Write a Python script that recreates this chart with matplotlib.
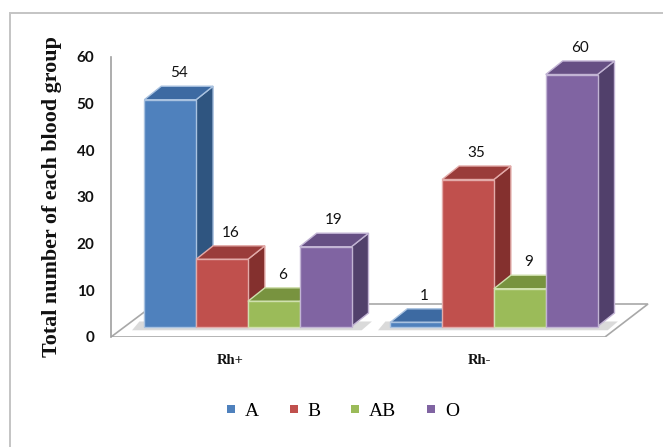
import matplotlib
matplotlib.use("Agg")
import matplotlib.pyplot as plt
from matplotlib.patches import Polygon, Rectangle
from matplotlib.lines import Line2D

# ---- data -------------------------------------------------------------
groups = ["Rh+", "Rh-"]
blood_types = ["A", "B", "AB", "O"]
rh_pos = [54, 16, 6, 19]
rh_neg = [1, 35, 9, 60]
y_ticks = [0, 10, 20, 30, 40, 50, 60]

values = [rh_pos, rh_neg]

# front / top / side / edge colours per blood type
front_cols = ["#4F81BD", "#C0504D", "#9BBB59", "#8064A2"]
top_cols = ["#3D6AA2", "#9A3C3A", "#78933F", "#664F84"]
side_cols = ["#2F5580", "#84302E", "#6A8636", "#51406B"]
edge_cols = ["#A9C2E0", "#E3ABA9", "#D0E0AE", "#C2B4D4"]

# ---- figure -------------------------------------------------------------
W, H = 663, 447
fig = plt.figure(figsize=(W / 100, H / 100), dpi=100)
fig.patch.set_facecolor("white")

# outer chart-area border (left and top edges fall inside the canvas)
fig.patches.append(Rectangle((10 / W, -0.2), 1.5, 1.2 - 12.7 / H,
                             transform=fig.transFigure, fill=False,
                             edgecolor="#C4C4C4", linewidth=1.4))

px_per_unit = 4.2          # vertical pixels per count
group_px = 246.0           # pixels between group centres
ax_left, ax_right, ax_top, ax_bot = 111, 663, 20, 337
x0_px = 247.9              # pixel of the first group centre
base_px = 326.5            # pixel of the bar bases

ax = fig.add_axes([ax_left / W, 1 - ax_bot / H, (ax_right - ax_left) / W,
                   (ax_bot - ax_top) / H])
ax.set_xlim((ax_left - x0_px) / group_px, (ax_right - x0_px) / group_px)
ax.set_ylim(-(ax_bot - base_px) / px_per_unit, (base_px - ax_top) / px_per_unit)
ax.axis("off")

bar_w = 51.8 / group_px
dx = 17 / group_px
dy = 13.5 / px_per_unit

# floor plate
fy_front = -(ax_bot - base_px) / px_per_unit
fy_back = (base_px - 304) / px_per_unit
floor = Polygon([((111 - x0_px) / group_px, fy_front),
                 ((605 - x0_px) / group_px, fy_front),
                 ((648 - x0_px) / group_px, fy_back),
                 ((155 - x0_px) / group_px, fy_back)],
                closed=True, facecolor="white", edgecolor="#A8A8A8",
                linewidth=1.2, zorder=1)
ax.add_patch(floor)

# soft shadow under each group of bars
for gi in range(len(groups)):
    left = gi - 2 * bar_w
    right = gi + 2 * bar_w
    sh = Polygon([(left - 0.05, -0.9), (right + dx * 0.6, -0.9),
                  (right + dx * 1.2, 1.2), (left - 0.02, 1.2)],
                 closed=True, facecolor="#BDBDBD", edgecolor="none",
                 alpha=0.55, zorder=1.5)
    ax.add_patch(sh)

z = 2
for gi, vals in enumerate(values):
    for bi, v in enumerate(vals):
        xc = gi + (bi - 1.5) * bar_w
        xl, xr = xc - bar_w / 2, xc + bar_w / 2
        side = Polygon([(xr, 0), (xr + dx, dy), (xr + dx, v + dy), (xr, v)],
                       closed=True, facecolor=side_cols[bi],
                       edgecolor=edge_cols[bi], linewidth=1.0, zorder=z)
        top = Polygon([(xl, v), (xr, v), (xr + dx, v + dy), (xl + dx, v + dy)],
                      closed=True, facecolor=top_cols[bi],
                      edgecolor=edge_cols[bi], linewidth=1.0, zorder=z + 0.1)
        ax.add_patch(side)
        ax.add_patch(top)
        ax.bar(xc, v, width=bar_w, bottom=0, color=front_cols[bi],
               edgecolor=edge_cols[bi], linewidth=1.0, zorder=z + 0.2)
        ax.text(xc + dx / 2, v + dy + 1.4, str(v), ha="center", va="bottom",
                fontsize=11, family="Lato", color="#111111", zorder=20)
        z += 1

# category labels under each group
label_shift = [-18 / group_px, -14 / group_px]
for gi, g in enumerate(groups):
    ax.text(gi + label_shift[gi], fy_front - 24 / px_per_unit, g,
            ha="center", va="center", fontsize=10.5, fontweight="bold",
            family="Liberation Serif", color="#111111")

# value axis along the front edge of the floor
axis_top_px = 57
tax = fig.add_axes([ax_left / W, 1 - ax_bot / H, 0.001,
                    (ax_bot - axis_top_px) / H])
tax.set_ylim(0, 60)
tax.set_yticks(y_ticks)
tax.set_yticklabels([str(t) for t in y_ticks], fontsize=11,
                    fontweight="bold", family="Lato", color="#111111")
tax.set_xticks([])
tax.tick_params(axis="y", length=0, pad=12)
for s in ["top", "right", "bottom"]:
    tax.spines[s].set_visible(False)
tax.spines["left"].set_color("#A0A0A0")
tax.spines["left"].set_linewidth(1.2)
tax.patch.set_alpha(0)

fig.text(52 / W, 1 - 197 / H, "Total number of each blood group",
         rotation=90, ha="center", va="center", fontsize=15.8,
         fontweight="bold", family="Liberation Serif", color="#111111")

handles = [Line2D([], [], marker="s", linestyle="none", markersize=6,
                  color=c, markeredgewidth=0) for c in front_cols]
fig.legend(handles, blood_types, loc="center", ncol=4,
           bbox_to_anchor=(342 / W, 1 - 411 / H), frameon=False,
           prop={"family": "Liberation Serif", "size": 14},
           handlelength=0.6, handletextpad=0.4, columnspacing=1.5)

fig.savefig("out.png", dpi=100)
